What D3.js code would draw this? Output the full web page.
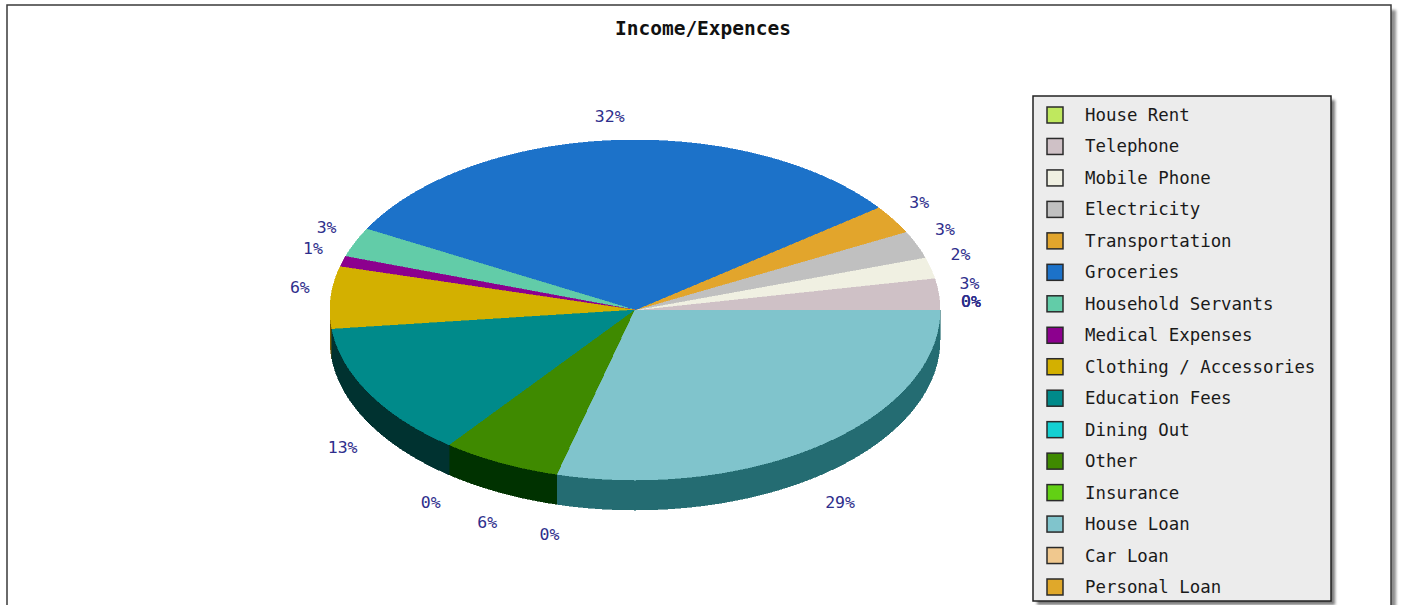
<!DOCTYPE html>
<html>
<head>
<meta charset="utf-8">
<script src="https://cdn.jsdelivr.net/npm/d3@7"></script>
<style>
  body { margin: 0; background: #ffffff; }
  svg { display: block; }
</style>
</head>
<body>
<svg id="chart" width="1404" height="605"></svg>
<script>
// Expense categories, in drawing order (counter-clockwise from 3 o'clock)
const categories = [
  "House Rent", "Telephone", "Mobile Phone", "Electricity", "Transportation",
  "Groceries", "Household Servants", "Medical Expenses", "Clothing / Accessories",
  "Education Fees", "Dining Out", "Other", "Insurance", "House Loan",
  "Car Loan", "Personal Loan"
];
// Share of the monthly budget per category
const shares = [0, 3.0, 2.0, 2.6, 2.7, 31.8, 2.8, 1.0, 5.9, 12.8, 0, 6.3, 0, 29.1, 0, 0];
const sliceColors = [
  "#bfe85e", "#cfc1c6", "#f0f0e2", "#c0c0c0", "#e2a52c",
  "#1c72c9", "#62cca8", "#8c008e", "#d3b000",
  "#008a8a", "#14d0d2", "#3f8a00", "#62d014", "#80c4cc",
  "#f0c88e", "#e0a82a"
];
const chartTitle = "Income/Expences";

const data = categories.map((name, i) => ({ name, value: shares[i], color: sliceColors[i] }));
const total = d3.sum(shares);

const svg = d3.select("#chart");
const defs = svg.append("defs");
defs.append("filter").attr("id", "soft").attr("x", "-5%").attr("y", "-5%").attr("width", "110%").attr("height", "110%")
  .append("feGaussianBlur").attr("stdDeviation", 1.6);

// Outer frame with its drop shadow
svg.append("rect").attr("x", 12).attr("y", 10).attr("width", 1384).attr("height", 700)
  .attr("fill", "#8d8d8d").attr("filter", "url(#soft)");
svg.append("rect").attr("x", 7).attr("y", 5).attr("width", 1384).attr("height", 700)
  .attr("fill", "#ffffff").attr("stroke", "#3a3a3a").attr("stroke-width", 1.5);

// Title
svg.append("text")
  .attr("x", 703).attr("y", 28)
  .attr("text-anchor", "middle").attr("dominant-baseline", "central")
  .attr("font-family", "'DejaVu Sans Mono', monospace")
  .attr("font-weight", "bold").attr("font-size", 19.5)
  .attr("fill", "#111111")
  .text(chartTitle);

// 3D pie geometry
const cx = 635, cy = 310, rx = 305, ry = 170, depth = 30;
const labelRx = 336, labelRy = 185;

const pie = d3.pie().sort(null).value(d => d.value).startAngle(0).endAngle(2 * Math.PI);
const arcs = pie(data);

const ex = d3.scaleLinear().domain([-1, 1]).range([cx - rx, cx + rx]);
const ey = d3.scaleLinear().domain([-1, 1]).range([cy + ry, cy - ry]);
const pt = (a, dy = 0) => [ex(Math.cos(a)), ey(Math.sin(a)) + dy];

function sample(a0, a1, dy) {
  const n = Math.max(2, Math.ceil((a1 - a0) / 0.004));
  return d3.range(n + 1).map(i => pt(a0 + (a1 - a0) * i / n, dy));
}

function topPath(d) {
  if (d.endAngle - d.startAngle <= 0) return null;
  return d3.line()([[cx, cy], ...sample(d.startAngle, d.endAngle, 0)]) + "Z";
}

function sidePath(d) {
  const a0 = Math.max(d.startAngle, Math.PI), a1 = Math.min(d.endAngle, 2 * Math.PI);
  if (a1 <= a0) return null;
  const upper = sample(a0, a1, 0);
  const lower = sample(a0, a1, depth).reverse();
  return d3.line()([...upper, ...lower]) + "Z";
}

function shade(c) {
  const r = d3.rgb(c);
  return d3.rgb(Math.max(0, r.r - 92), Math.max(0, r.g - 88), Math.max(0, r.b - 90)).formatHex();
}

const pieG = svg.append("g").attr("shape-rendering", "crispEdges");

pieG.selectAll("path.side")
  .data(arcs.filter(d => sidePath(d)))
  .join("path")
  .attr("class", "side")
  .attr("d", sidePath)
  .attr("fill", d => shade(d.data.color))
  .attr("stroke", d => shade(d.data.color))
  .attr("stroke-width", 0.6);

pieG.selectAll("path.top")
  .data(arcs.filter(d => d.endAngle > d.startAngle))
  .join("path")
  .attr("class", "top")
  .attr("d", topPath)
  .attr("fill", d => d.data.color)
  .attr("stroke", d => d.data.color)
  .attr("stroke-width", 0.6);

// Percentage labels around the pie
svg.append("g").selectAll("text")
  .data(arcs)
  .join("text")
  .attr("x", d => cx + labelRx * Math.cos((d.startAngle + d.endAngle) / 2))
  .attr("y", d => {
    const s = Math.sin((d.startAngle + d.endAngle) / 2);
    return s >= -1e-9 ? cy - s * labelRy - 9 : cy - s * labelRy + depth + 16;
  })
  .attr("text-anchor", "middle").attr("dominant-baseline", "central")
  .attr("font-family", "'DejaVu Sans Mono', monospace")
  .attr("font-size", 16.5)
  .attr("fill", "#2e2e8c")
  .text(d => Math.round(d.data.value / total * 100) + "%");

// Legend
const lx = 1033, ly = 96, lw = 298, lh = 505;
svg.append("rect").attr("x", lx + 4).attr("y", ly + 4).attr("width", lw).attr("height", lh)
  .attr("fill", "#7a7a7a").attr("filter", "url(#soft)");
svg.append("rect").attr("x", lx).attr("y", ly).attr("width", lw).attr("height", lh)
  .attr("fill", "#ececec").attr("stroke", "#222222").attr("stroke-width", 1.5);

const ly0 = d3.scalePoint().domain(categories).range([115, 587]);
const items = svg.append("g").selectAll("g")
  .data(data)
  .join("g")
  .attr("transform", d => `translate(0,${ly0(d.name)})`);
items.append("rect")
  .attr("x", 1047).attr("y", -8).attr("width", 16).attr("height", 16)
  .attr("fill", d => d.color).attr("stroke", "#2a2a2a").attr("stroke-width", 1.5);
items.append("text")
  .attr("x", 1085).attr("y", 0)
  .attr("dominant-baseline", "central")
  .attr("font-family", "'DejaVu Sans Mono', monospace")
  .attr("font-size", 17.4)
  .attr("fill", "#1a1a1a")
  .text(d => d.name);
</script>
</body>
</html>
